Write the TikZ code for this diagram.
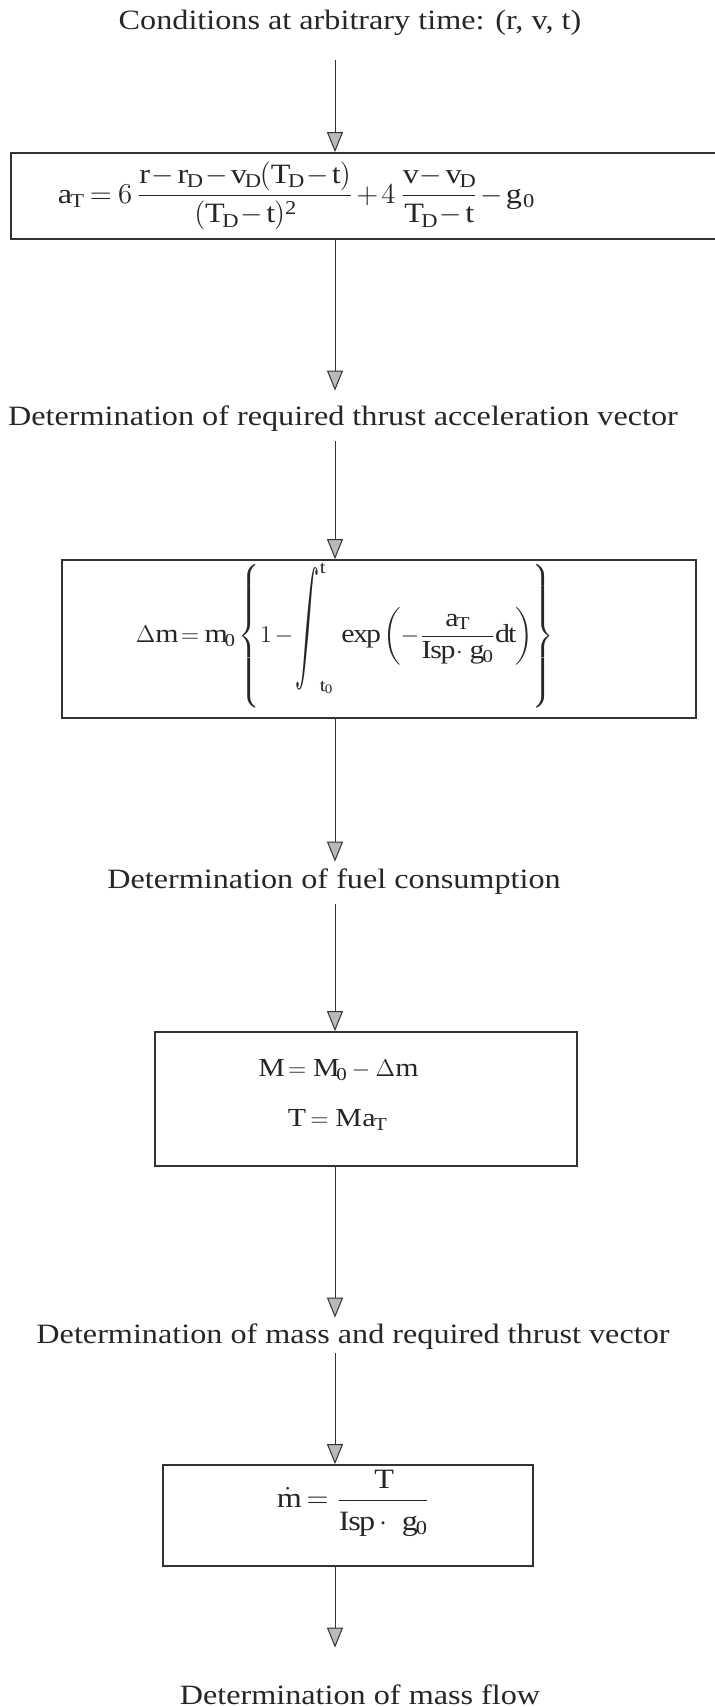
\documentclass[tikz,border=0pt]{standalone}
\usepackage{amsmath}
\usepackage{fontspec}
\setmainfont{Liberation Serif}[FakeStretch=1.15]
\usetikzlibrary{positioning,arrows.meta,fit}

\begin{document}
\begin{tikzpicture}[
  x=0.5pt, y=-0.5pt,
  every node/.style={font=\fontsize{14}{17}\selectfont, text=black!85},
  lbl/.style={inner sep=0pt, text height=10pt, text depth=3pt},
  eq/.style={execute at begin node={\medmuskip=2mu\thickmuskip=4mu}},
  stage/.style={draw=black!80, line width=0.9pt, inner sep=0pt},
  flow/.style={draw=black!80, line width=0.5pt,
    -{Triangle[length=10pt,width=8pt,fill=gray!55]}}
]
\useasboundingbox (0,0) rectangle (715,1707);
\clip (0,0) rectangle (715,1707);
\coordinate (col) at (335,0);

% 初期条件
\node[lbl] (cond) at (350,23) {Conditions at arbitrary time: (r, v, t)};

% 推力加速度
\node[stage, fit={(11,153) (740,239)}] (acc) {};
\node[eq] (accf) at (296,196)
  {$\mathrm{a_T} = 6\,\dfrac{\mathrm{r - r_D - v_D(T_D - t)}}{\mathrm{(T_D - t)^2}}
   + 4\,\dfrac{\mathrm{v - v_D}}{\mathrm{T_D - t}} - \mathrm{g_{\,0}}$};
\node[lbl] (accl) at (343,418)
  {Determination of required thrust acceleration vector};

% 燃料消費
\node[stage, fit={(62,560) (696,718)}] (fuel) {};
\node[eq, font=\fontsize{13}{15}\selectfont] (fuelf) at (345,636)
  {$\Delta\mathrm{m} = \mathrm{m_0}\left\{1 -
   {\scalebox{1}[2.3]{$\displaystyle\int$}}_{\mathrm{t_0}}^{\mathrm{t}}\,
   \exp\left(-\dfrac{\mathrm{a_T}}{\mathrm{Isp}\cdot\,\mathrm{g_0}}\mathrm{dt}\right)\right\}$};
\node[lbl] (fuell) at (334,881) {Determination of fuel consumption};

% 質量と推力
\node[stage, fit={(155,1032) (577,1166)}] (mass) {};
\node[align=center, font=\fontsize{13}{16}\selectfont] (massf) at (337,1095)
  {$\mathrm{M = M_0} - \Delta\mathrm{m}$\\[9pt] $\mathrm{T = M\,a_T}$};
\node[lbl] (massl) at (353,1336)
  {Determination of mass and required thrust vector};

% 質量流量
\node[stage, fit={(163,1465) (533,1566)}] (flow) {};
\node (flowf) at (353,1503)
  {$\dot{\mathrm{m}} = \dfrac{\mathrm{T}\rule[-3pt]{0pt}{3pt}}
   {\rule{0pt}{13pt}\mathrm{Isp}\cdot\;\mathrm{g_0}}$};
\node[lbl] (flowl) at (360,1697) {Determination of mass flow};

% 矢印
\draw[flow, shorten <=12pt] (cond.south -| col) -- (acc.north -| col);
\draw[flow, shorten >=7pt] (acc.south -| col) -- (accl.north -| col);
\draw[flow, shorten <=5pt] (accl.south -| col) -- (fuel.north -| col);
\draw[flow, shorten >=3pt] (fuel.south -| col) -- (fuell.north -| col);
\draw[flow, shorten <=5pt] (fuell.south -| col) -- (mass.north -| col);
\draw[flow, shorten >=2.5pt] (mass.south -| col) -- (massl.north -| col);
\draw[flow, shorten <=2pt] (massl.south -| col) -- (flow.north -| col);
\draw[flow, shorten >=18pt] (flow.south -| col) -- (flowl.north -| col);
\end{tikzpicture}
\end{document}
